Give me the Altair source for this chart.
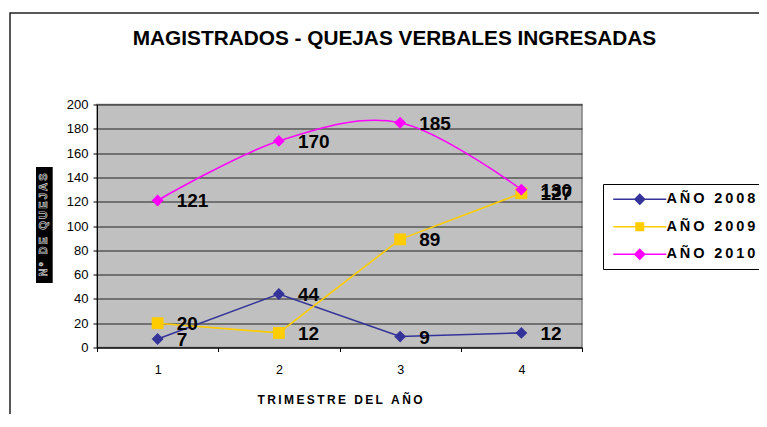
import altair as alt
import pandas as pd

QUARTERS = [1, 2, 3, 4]
SERIES = ["AÑO 2008", "AÑO 2009", "AÑO 2010"]
Y2008 = [7, 44, 9, 12]
Y2009 = [20, 12, 89, 127]
Y2010 = [121, 170, 185, 130]
COLORS = ["#333399", "#FFCC00", "#FF00FF"]
MARKERS = ["diamond", "square", "diamond"]
SMOOTHED = ["AÑO 2010"]
TITLE = "MAGISTRADOS - QUEJAS VERBALES INGRESADAS"
XTITLE = "TRIMESTRE DEL AÑO"
YTITLE = "N° DE QUEJAS"
YTICKS = list(range(0, 201, 20))

THIN = "\u2009"
FONT = "Liberation Sans"

rows = []
for name, vals in zip(SERIES, [Y2008, Y2009, Y2010]):
    for q, v in zip(QUARTERS, vals):
        rows.append({"trimestre": q, "serie": name, "quejas": v,
                     "suave": name in SMOOTHED})
df = pd.DataFrame(rows)

# legend symbols: line segment + marker (custom SVG paths)
LEG_D = "M-1,-0.14H9.6V0.14H-1Z M4.3,-1.2L5.5,0L4.3,1.2L3.1,0Z"
LEG_S = "M-1,-0.14H9.6V0.14H-1Z M3.4,-0.9H5.2V0.9H3.4Z"
LEG_SHAPES = [LEG_D, LEG_S, LEG_D]

x_enc = alt.X(
    "trimestre:O",
    bandPosition=0.5,
    scale=alt.Scale(type="band", paddingInner=0, paddingOuter=0),
    axis=alt.Axis(
        title=THIN.join(XTITLE),
        titleFont=FONT, titleFontSize=12, titleFontWeight="bold", titleColor="#000",
        titlePadding=18,
        labelAngle=0, labelFont=FONT, labelFontSize=12.5, labelColor="#000",
        labelPadding=12,
        tickBand="extent", tickSize=4, tickColor="#000",
        domainColor="#000", domainWidth=1, grid=False,
    ),
)
y_enc = alt.Y(
    "quejas:Q",
    scale=alt.Scale(domain=[0, 200], nice=False),
    axis=alt.Axis(
        values=YTICKS, title=None,
        labelFont=FONT, labelFontSize=13, labelColor="#000", labelPadding=5,
        tickSize=4, tickColor="#000", domainColor="#000",
        grid=True, gridColor="#222", gridWidth=1,
    ),
)
color_scale = alt.Scale(domain=SERIES, range=COLORS)

base = alt.Chart(df)

frame = alt.Chart(pd.DataFrame({"k": [0]})).mark_rect(
    fill=None, fillOpacity=0, stroke="#222", strokeWidth=1.5
).encode(x=alt.value(-87), x2=alt.value(720), y=alt.value(-91.5), y2=alt.value(420))

lines_straight = base.transform_filter("!datum.suave").mark_line(strokeWidth=1.6).encode(
    x=x_enc, y=y_enc,
    color=alt.Color("serie:N", scale=color_scale, legend=None),
    detail="serie:N",
)
lines_smooth = base.transform_filter("datum.suave").mark_line(
    interpolate="cardinal", tension=0, strokeWidth=1.6
).encode(
    x=x_enc, y=y_enc,
    color=alt.Color("serie:N", scale=color_scale, legend=None),
    detail="serie:N",
)

points = base.mark_point(filled=True, opacity=1, size=140, strokeWidth=0).encode(
    x=x_enc, y=y_enc,
    color=alt.Color("serie:N", scale=color_scale, legend=None),
    shape=alt.Shape("serie:N", scale=alt.Scale(domain=SERIES, range=MARKERS), legend=None),
)

labels = base.mark_text(
    align="left", baseline="middle", dx=19, dy=1,
    font=FONT, fontSize=19, fontWeight="bold", color="#000",
).encode(x=x_enc, y=y_enc, text="quejas:Q")

legend_props = dict(
    title=None, orient="none", legendX=506, legendY=79.5,
    fillColor="#fff", strokeColor="#000", padding=8,
    labelFont=FONT, labelFontSize=14.5, labelFontWeight="bold", labelColor="#000",
    labelExpr="join(split(datum.label, ''), '" + THIN + "')",
    labelOffset=41, symbolSize=100, symbolStrokeWidth=0, symbolOpacity=1,
    rowPadding=12.5,
)
legend_layer = base.transform_filter("false").mark_point(filled=True, opacity=1, strokeWidth=0).encode(
    x=x_enc, y=y_enc,
    color=alt.Color("serie:N", scale=color_scale, legend=alt.Legend(**legend_props)),
    shape=alt.Shape("serie:N", scale=alt.Scale(domain=SERIES, range=LEG_SHAPES),
                    legend=alt.Legend(**legend_props)),
)

one = pd.DataFrame({"k": [0]})
ytitle_box = alt.Chart(one).mark_rect(fill="#000").encode(
    x=alt.value(-61), x2=alt.value(-44.3), y=alt.value(62.5), y2=alt.value(178.5)
)
ytitle_text = alt.Chart(one).mark_text(
    angle=270, align="center", baseline="middle",
    font=FONT, fontSize=11, fontWeight="bold",
    fill="#000", stroke="#cfcfcf", strokeWidth=0.7,
).encode(x=alt.value(-52.6), y=alt.value(120.5), text=alt.value(THIN.join(YTITLE)))

chart = alt.layer(
    frame, lines_straight, lines_smooth, points, labels, legend_layer, ytitle_box, ytitle_text
).resolve_scale(
    shape="independent"
).resolve_legend(
    color="independent", shape="independent"
).properties(
    width=485, height=243,
    autosize=alt.AutoSizeParams(type="none"),
    padding={"left": 89, "top": 96.5, "right": 177, "bottom": 66},
    background="#ffffff",
    title=alt.TitleParams(
        text=TITLE, font=FONT, fontSize=20.8, fontWeight="bold", color="#000",
        anchor="middle", dx=55, offset=-53.5, baseline="alphabetic",
    ),
).configure_view(
    fill="#C0C0C0", stroke="#808080", strokeWidth=1.5
).configure_legend(
    strokeWidth=1
)

chart.save("out.html", embed_options={"renderer": "svg", "actions": False})
